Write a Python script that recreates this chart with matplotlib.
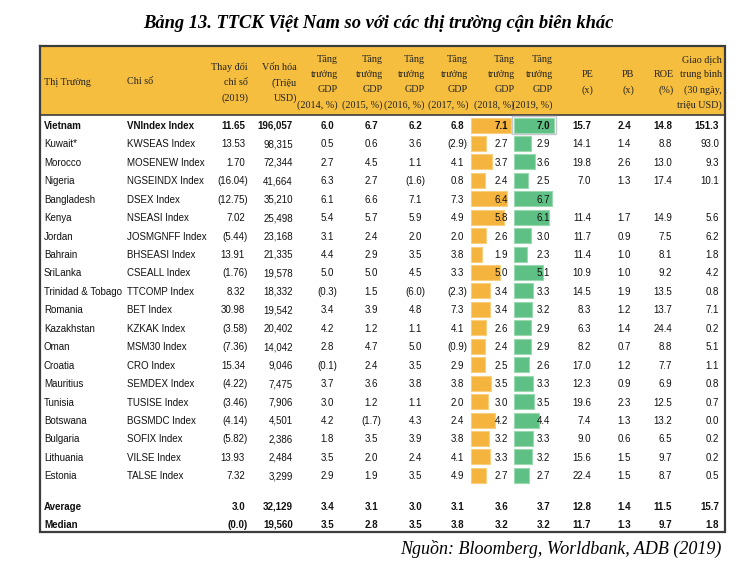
import matplotlib
matplotlib.use("Agg")
import matplotlib.pyplot as plt
from matplotlib import font_manager
from matplotlib.patches import Rectangle

# ---- data ----
markets = ["Vietnam", "Kuwait*", "Morocco", "Nigeria", "Bangladesh", "Kenya", "Jordan",
           "Bahrain", "SriLanka", "Trinidad & Tobago", "Romania", "Kazakhstan", "Oman",
           "Croatia", "Mauritius", "Tunisia", "Botswana", "Bulgaria", "Lithuania", "Estonia"]
indices = ["VNIndex Index", "KWSEAS Index", "MOSENEW Index", "NGSEINDX Index", "DSEX Index",
           "NSEASI Index", "JOSMGNFF Index", "BHSEASI Index", "CSEALL Index", "TTCOMP Index",
           "BET Index", "KZKAK Index", "MSM30 Index", "CRO Index", "SEMDEX Index",
           "TUSISE Index", "BGSMDC Index", "SOFIX Index", "VILSE Index", "TALSE Index"]
chg_2019 = [11.65, 13.53, 1.70, -16.04, -12.75, 7.02, -5.44, 13.91, -1.76, 8.32,
            30.98, -3.58, -7.36, 15.34, -4.22, -3.46, -4.14, -5.82, 13.93, 7.32]
mcap = [196057, 98315, 72344, 41664, 35210, 25498, 23168, 21335, 19578, 18332,
        19542, 20402, 14042, 9046, 7475, 7906, 4501, 2386, 2484, 3299]
gdp_2014 = [6.0, 0.5, 2.7, 6.3, 6.1, 5.4, 3.1, 4.4, 5.0, -0.3, 3.4, 4.2, 2.8, -0.1, 3.7, 3.0, 4.2, 1.8, 3.5, 2.9]
gdp_2015 = [6.7, 0.6, 4.5, 2.7, 6.6, 5.7, 2.4, 2.9, 5.0, 1.5, 3.9, 1.2, 4.7, 2.4, 3.6, 1.2, -1.7, 3.5, 2.0, 1.9]
gdp_2016 = [6.2, 3.6, 1.1, -1.6, 7.1, 5.9, 2.0, 3.5, 4.5, -6.0, 4.8, 1.1, 5.0, 3.5, 3.8, 1.1, 4.3, 3.9, 2.4, 3.5]
gdp_2017 = [6.8, -2.9, 4.1, 0.8, 7.3, 4.9, 2.0, 3.8, 3.3, -2.3, 7.3, 4.1, -0.9, 2.9, 3.8, 2.0, 2.4, 3.8, 4.1, 4.9]
gdp_2018 = [7.1, 2.7, 3.7, 2.4, 6.4, 5.8, 2.6, 1.9, 5.0, 3.4, 3.4, 2.6, 2.4, 2.5, 3.5, 3.0, 4.2, 3.2, 3.3, 2.7]
gdp_2019 = [7.0, 2.9, 3.6, 2.5, 6.7, 6.1, 3.0, 2.3, 5.1, 3.3, 3.2, 2.9, 2.9, 2.6, 3.3, 3.5, 4.4, 3.3, 3.2, 2.7]
pe = [15.7, 14.1, 19.8, 7.0, None, 11.4, 11.7, 11.4, 10.9, 14.5, 8.3, 6.3, 8.2, 17.0, 12.3, 19.6, 7.4, 9.0, 15.6, 22.4]
pb = [2.4, 1.4, 2.6, 1.3, None, 1.7, 0.9, 1.0, 1.0, 1.9, 1.2, 1.4, 0.7, 1.2, 0.9, 2.3, 1.3, 0.6, 1.5, 1.5]
roe = [14.8, 8.8, 13.0, 17.4, None, 14.9, 7.5, 8.1, 9.2, 13.5, 13.7, 24.4, 8.8, 7.7, 6.9, 12.5, 13.2, 6.5, 9.7, 8.7]
turnover = [151.3, 93.0, 9.3, 10.1, None, 5.6, 6.2, 1.8, 4.2, 0.8, 7.1, 0.2, 5.1, 1.1, 0.8, 0.7, 0.0, 0.2, 0.2, 0.5]

summary_labels = ["Average", "Median"]
summary_chg = [3.0, -0.0]
summary_mcap = [32129, 19560]
summary_gdp = [[3.4, 3.1, 3.0, 3.1, 3.6, 3.7],
               [3.5, 2.8, 3.5, 3.8, 3.2, 3.2]]
summary_pe = [12.8, 11.7]
summary_pb = [1.4, 1.3]
summary_roe = [11.5, 9.7]
summary_turnover = [15.7, 1.8]

headers = [
    ["Thay đổi", "chỉ số", "(2019)"],
    ["Vốn hóa", "(Triệu", "USD)"],
    ["Tăng", "trưởng", "GDP", "(2014, %)"],
    ["Tăng", "trưởng", "GDP", "(2015, %)"],
    ["Tăng", "trưởng", "GDP", "(2016, %)"],
    ["Tăng", "trưởng", "GDP", "(2017, %)"],
    ["Tăng", "trưởng", "GDP", "(2018, %)"],
    ["Tăng", "trưởng", "GDP", "(2019, %)"],
    ["PE", "(x)"],
    ["PB", "(x)"],
    ["ROE", "(%)"],
    ["Giao dịch", "trung bình", "(30 ngày,", "triệu USD)"],
]
title = "Bảng 13. TTCK Việt Nam so với các thị trường cận biên khác"
source = "Nguồn: Bloomberg, Worldbank, ADB (2019)"

# ---- layout (pixel coordinates) ----
names = {f.name for f in font_manager.fontManager.ttflist}
body_font = "Liberation Sans Narrow" if "Liberation Sans Narrow" in names else "Liberation Sans"
body_size = 7.8 if body_font == "Liberation Sans Narrow" else 7.0
serif = "Liberation Serif"

orange = "#F4B43E"
green = "#5EC085"
header_bg = "#F5BE3F"
border = "#3c3c3c"

x_left, x_right, y_top, y_head, y_bot = 40, 725, 46, 115, 532
x_market, x_index = 44, 127
col_edge = [248, 296, 337, 381, 425, 467, 511, 553, 594, 634, 675, 722]  # right edges incl. ")"
head_edge = [248, 297, 338, 383, 425, 468, 515, 553, 593, 634, 674, 722]
paren = 3
bar_left = {6: 471, 7: 514}
px_per_unit = 5.7
row0, row_step = 125, 18.44
summary_y = [506, 524]
base_off = 3.9   # baseline below the row centre, px
head_off = 3.4

fig = plt.figure(figsize=(7.55, 5.69), dpi=100)
ax = fig.add_axes([0, 0, 1, 1])
ax.set_xlim(0, 755)
ax.set_ylim(569, 0)
ax.axis("off")

ax.text(378, 23, title, ha="center", va="center", fontsize=13.3, fontweight="bold",
        fontstyle="italic", family=serif)
ax.text(722, 549, source, ha="right", va="center", fontsize=13, fontstyle="italic", family=serif)

# header block
ax.add_patch(Rectangle((x_left, y_top), x_right - x_left, y_head - y_top, facecolor=header_bg,
                       edgecolor="none", zorder=0))
ax.plot([x_left, x_right], [y_head, y_head], color=border, lw=1.2)
ax.plot([x_left, x_right, x_right, x_left, x_left], [y_top, y_top, y_bot, y_bot, y_top],
        color=border, lw=1.6, solid_joinstyle="miter")

line_y = {1: [81], 2: [74, 89], 3: [67, 82, 97], 4: [59, 74, 89, 104]}
hkw = dict(fontsize=7.3, family=serif, va="baseline", color="#222222")
ax.text(x_market, 81 + head_off, "Thị Trường", ha="left", **hkw)
ax.text(x_index, 81 + head_off, "Chỉ số", ha="left", **hkw)
for c, lines in enumerate(headers):
    for y, s in zip(line_y[len(lines)], lines):
        ax.text(head_edge[c], y + head_off, s, ha="right", **hkw)


def fmt(v, d):
    if v is None:
        return None
    if v < 0 or (v == 0 and str(v).startswith("-")):
        return "(" + f"{abs(v):,.{d}f}" + ")"
    return f"{v:,.{d}f}"


def put(c, y, v, d, weight):
    s = fmt(v, d)
    if s is None:
        return
    x = col_edge[c] if s.endswith(")") else col_edge[c] - paren
    ax.text(x, y + base_off, s, ha="right", va="baseline", fontsize=body_size, family=body_font,
            fontweight=weight, color="#111111")


def label(x, y, s, weight):
    ax.text(x, y + base_off, s, ha="left", va="baseline", fontsize=body_size,
            family=body_font, fontweight=weight, color="#111111")


rows_y = [row0 + i * row_step for i in range(len(markets))]
bar_h = 15
for i, y in enumerate(rows_y):
    w = "bold" if i == 0 else "normal"
    label(x_market, y, markets[i], w)
    label(x_index, y, indices[i], w)
    vals = [(chg_2019[i], 2), (mcap[i], 0), (gdp_2014[i], 1), (gdp_2015[i], 1), (gdp_2016[i], 1),
            (gdp_2017[i], 1), (gdp_2018[i], 1), (gdp_2019[i], 1), (pe[i], 1), (pb[i], 1),
            (roe[i], 1), (turnover[i], 1)]
    for c, (v, d) in enumerate(vals):
        put(c, y, v, d, w)

# data bars for GDP 2018 / 2019
ax.barh(rows_y, [v * px_per_unit for v in gdp_2018], left=bar_left[6], height=bar_h,
        color=orange, edgecolor="#F8CF7E", linewidth=0.8, zorder=1)
ax.barh(rows_y, [v * px_per_unit for v in gdp_2019], left=bar_left[7], height=bar_h,
        color=green, edgecolor="#9AD9B0", linewidth=0.8, zorder=1)
ax.add_patch(Rectangle((bar_left[7] - 2, rows_y[0] - 9), 44, 18, facecolor="none",
                       edgecolor="#c8c8d0", lw=1.0, zorder=2))

for k, y in enumerate(summary_y):
    label(x_market, y, summary_labels[k], "bold")
    vals = [(summary_chg[k], 1), (summary_mcap[k], 0)] + [(g, 1) for g in summary_gdp[k]] + \
           [(summary_pe[k], 1), (summary_pb[k], 1), (summary_roe[k], 1), (summary_turnover[k], 1)]
    for c, (v, d) in enumerate(vals):
        put(c, y, v, d, "bold")

fig.savefig("out.png", dpi=100)
